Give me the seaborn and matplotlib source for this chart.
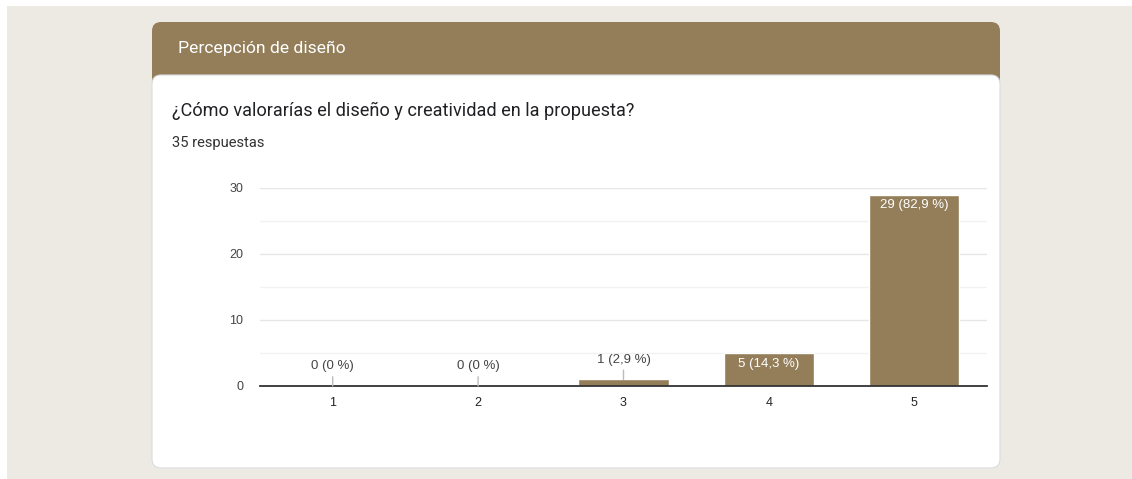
import matplotlib
matplotlib.use("Agg")
import matplotlib.pyplot as plt
from matplotlib.patches import FancyBboxPatch, Rectangle
import seaborn as sns
import pandas as pd

categories = ["1", "2", "3", "4", "5"]
counts = [0, 0, 1, 5, 29]
pct_labels = ["0 (0 %)", "0 (0 %)", "1 (2,9 %)", "5 (14,3 %)", "29 (82,9 %)"]
y_ticks = [0, 10, 20, 30]
header_title = "Percepción de diseño"
question = "¿Cómo valorarías el diseño y creatividad en la propuesta?"
responses = "35 respuestas"

BROWN = "#937E59"
BG = "#EDEAE4"

sns.set_theme(style="white")
plt.rcParams["font.family"] = ["Liberation Sans", "DejaVu Sans"]

W, H = 1132, 479
fig = plt.figure(figsize=(W / 100, H / 100), dpi=100, facecolor=BG)

def fx(px):
    return px / W

def fy(py):
    return 1 - py / H

# white page margin (top / left)
fig.patches.append(Rectangle((0, fy(6)), 1, 1 - fy(6), transform=fig.transFigure,
                             facecolor="white", edgecolor="none", zorder=0))
fig.patches.append(Rectangle((0, 0), fx(7), 1, transform=fig.transFigure,
                             facecolor="white", edgecolor="none", zorder=0))

# header band (rounded)
fig.patches.append(FancyBboxPatch((fx(152), fy(95)), fx(1000) - fx(152), fy(22) - fy(95),
                                  boxstyle="round,pad=0,rounding_size=0.008",
                                  transform=fig.transFigure, facecolor=BROWN,
                                  edgecolor="none", zorder=1, mutation_aspect=W / H))
# card body
fig.patches.append(FancyBboxPatch((fx(152), fy(468)), fx(1000) - fx(152), fy(75) - fy(468),
                                  boxstyle="round,pad=0,rounding_size=0.008",
                                  transform=fig.transFigure, facecolor="white",
                                  edgecolor="#DADCE0", linewidth=0.8, zorder=2,
                                  mutation_aspect=W / H))

fig.text(fx(178), fy(48), header_title, color="white", fontsize=12.6,
         family=["Roboto", "DejaVu Sans"], va="center", ha="left", zorder=5)
fig.text(fx(172), fy(111), question, color="#202124", fontsize=13.1,
         family=["Roboto", "DejaVu Sans"], va="center", ha="left", zorder=5)
fig.text(fx(172), fy(143), responses, color="#333333", fontsize=10.6,
         family=["Roboto", "DejaVu Sans"], va="center", ha="left", zorder=5)

ax = fig.add_axes([fx(260), fy(386), fx(987) - fx(260), fy(188) - fy(386)])
ax.set_zorder(3)
ax.patch.set_alpha(0)

df = pd.DataFrame({"cat": categories, "n": counts})
sns.barplot(data=df, x="cat", y="n", color=BROWN, saturation=1, width=0.62,
            ax=ax, zorder=3)

ax.set_xlim(-0.5, 4.5)
ax.set_ylim(0, 30)
ax.set_yticks(y_ticks)
ax.set_yticks([5, 15, 25], minor=True)
ax.grid(axis="y", which="major", color="#E6E6E6", linewidth=1, zorder=0)
ax.grid(axis="y", which="minor", color="#F2F2F2", linewidth=1, zorder=0)
ax.set_axisbelow(True)
ax.set_xlabel("")
ax.set_ylabel("")
for s in ["top", "right", "left"]:
    ax.spines[s].set_visible(False)
ax.spines["bottom"].set_color("#333333")
ax.spines["bottom"].set_linewidth(1.3)
ax.spines["bottom"].set_zorder(4)
ax.tick_params(axis="y", which="both", length=0, pad=12, labelsize=9, labelcolor="#444444")
ax.tick_params(axis="x", length=0, pad=8, labelsize=9, labelcolor="#222222")

for i, (v, lab) in enumerate(zip(counts, pct_labels)):
    if v >= 4:
        ax.annotate(lab, xy=(i, v), xytext=(0, -3.5), textcoords="offset points",
                    ha="center", va="top", color="white", fontsize=9.5, zorder=6)
    else:
        ax.annotate(lab, xy=(i, v), xytext=(0, 10), textcoords="offset points",
                    ha="center", va="bottom", color="#444444", fontsize=9.5, zorder=6,
                    arrowprops=dict(arrowstyle="-", color="#BBBBBB", lw=1,
                                    shrinkA=1, shrinkB=0))

fig.savefig("out.png", dpi=100, facecolor=BG)
